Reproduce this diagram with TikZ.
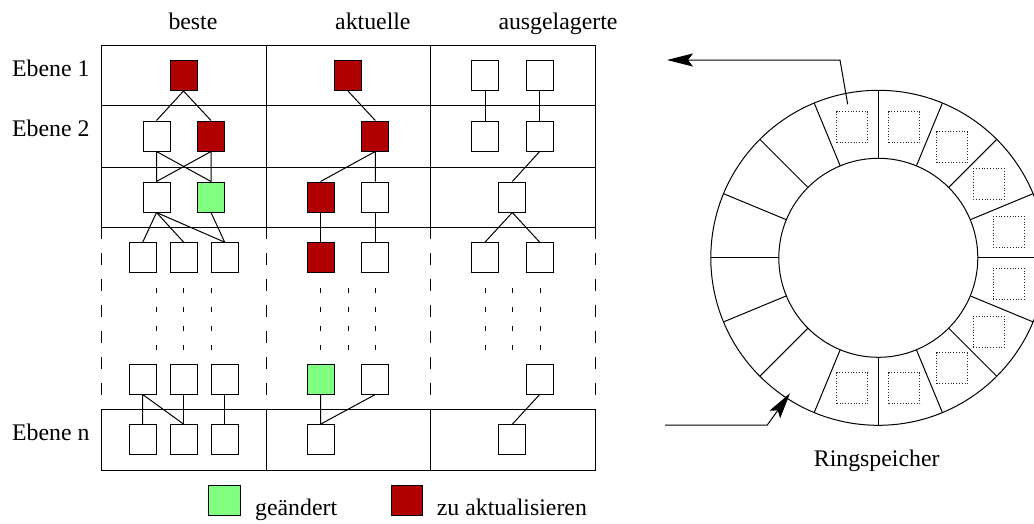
\documentclass[tikz,border=0pt]{standalone}
\usepackage{fontspec}
\setmainfont{Liberation Serif}
\usetikzlibrary{arrows.meta,calc}
\definecolor{updred}{RGB}{176,0,0}
\definecolor{chggreen}{RGB}{128,255,128}
\newcommand\lbfont{\fontsize{23.8}{28}\selectfont}
\begin{document}
\begin{tikzpicture}[x=1pt,y=-1pt,
  cell/.style={draw, line width=1pt, minimum width=27pt, minimum height=30pt, inner sep=0pt, fill=white},
  upd/.style={cell, fill=updred},
  chg/.style={cell, fill=chggreen},
  slot/.style={draw=black!85, dotted, line width=0.8pt, minimum width=31pt, minimum height=31pt, inner sep=0pt},
  lbl/.style={anchor=base west, inner sep=0pt, font=\lbfont},
  grid/.style={line width=1pt},
  gap/.style={line width=1pt, dash pattern=on 12pt off 14pt},
  dots/.style={line width=1pt, dash pattern=on 5pt off 14pt},
  link/.style={line width=1pt},
  ptr/.style={line width=1pt, -{Stealth[length=26pt, width=13pt, inset=5pt]}}]
\useasboundingbox (0,0) rectangle (1034,523);

% table frame
\draw[grid] (101,45) rectangle (595,227);
\draw[grid] (101,105) -- (595,105) (101,167) -- (595,167);
\draw[grid] (266,45) -- (266,227) (430,45) -- (430,227);
\foreach \x in {101,266,430,595} \draw[gap] (\x,227) -- (\x,409);
\draw[grid] (101,409) rectangle (595,470);
\draw[grid] (266,409) -- (266,470) (430,409) -- (430,470);

% column and row headings
\node[lbl] (hb) at (168.3,29.3) {beste};
\node[lbl] (ha) at (335,29.3) {aktuelle};
\node[lbl] (ho) at (498.3,29.3) {ausgelagerte};
\node[lbl] (e1) at (12,76) {Ebene 1};
\node[lbl] (e2) at (12,136) {Ebene 2};
\node[lbl] (en) at (12,440) {Ebene n};

% column "beste"
\node[upd]  (b1)  at (183.5,75.5) {};
\node[cell] (b2a) at (156.5,136) {};
\node[upd]  (b2b) at (211,136) {};
\node[cell] (b3a) at (156.5,197) {};
\node[chg]  (b3b) at (211,197) {};
\node[cell] (b4a) at (142.7,257.7) {};
\node[cell] (b4b) at (183.7,257.7) {};
\node[cell] (b4c) at (224.7,257.7) {};
\node[cell] (b5a) at (142.7,379) {};
\node[cell] (b5b) at (183.7,379) {};
\node[cell] (b5c) at (224.7,379) {};
\node[cell] (b6a) at (142.7,439.7) {};
\node[cell] (b6b) at (183.7,439.7) {};
\node[cell] (b6c) at (224.7,439.7) {};
\draw[link] (b1.south) -- (b2a.north) (b1.south) -- (b2b.north);
\draw[link] (b2a.south) -- (b3a.north) (b2a.south) -- (b3b.north);
\draw[link] (b2b.south) -- (b3a.north) (b2b.south) -- (b3b.north);
\draw[link] (b3a.south) -- (b4a.north) (b3a.south) -- (b4b.north) (b3a.south) -- (b4c.north);
\draw[link] (b3b.south) -- (b4c.north);
\draw[link] (b5a.south) -- (b6a.north) (b5a.south) -- (b6b.north);
\draw[link] (b5b.south) -- (b6b.north) (b5c.south) -- (b6c.north);

% column "aktuelle"
\node[upd]  (a1)  at (348,75.5) {};
\node[upd]  (a2)  at (375.3,136) {};
\node[upd]  (a3a) at (320.5,197) {};
\node[cell] (a3b) at (375.3,197) {};
\node[upd]  (a4a) at (320.5,257.7) {};
\node[cell] (a4b) at (375.3,257.7) {};
\node[chg]  (a5a) at (320.5,379) {};
\node[cell] (a5b) at (375.3,379) {};
\node[cell] (a6)  at (320.5,439.7) {};
\draw[link] (a1.south) -- (a2.north);
\draw[link] (a2.south) -- (a3a.north) (a2.south) -- (a3b.north);
\draw[link] (a3a.south) -- (a4a.north) (a3b.south) -- (a4b.north);
\draw[link] (a5a.south) -- (a6.north) (a5b.south) -- (a6.north);

% column "ausgelagerte"
\node[cell] (o1a) at (485,75.5) {};
\node[cell] (o1b) at (539.7,75.5) {};
\node[cell] (o2a) at (485,136) {};
\node[cell] (o2b) at (539.7,136) {};
\node[cell] (o3)  at (512.3,197) {};
\node[cell] (o4a) at (485,257.7) {};
\node[cell] (o4b) at (539.7,257.7) {};
\node[cell] (o5)  at (539.7,379) {};
\node[cell] (o6)  at (512.3,439.7) {};
\draw[link] (o1a.south) -- (o2a.north) (o1b.south) -- (o2b.north);
\draw[link] (o2b.south) -- (o3.north);
\draw[link] (o3.south) -- (o4a.north) (o3.south) -- (o4b.north);
\draw[link] (o5.south) -- (o6.north);

% skipped levels
\foreach \x in {156.3,183.7,211,320.7,348,375.3,485.3,512.7,540}
  \draw[dots] (\x,288) -- (\x,350);

% legend
\node[chg, minimum width=31.7pt] (kg) at (224.2,500) {};
\node[lbl] (tg) at (255,515) {geändert};
\node[upd, minimum width=30.6pt] (kr) at (407,500) {};
\node[lbl] (tr) at (436.7,515) {zu aktualisieren};

% ring buffer
\coordinate (c) at (878.3,257.8);
\draw[link] (c) circle[radius=167.5pt];
\draw[link] (c) circle[radius=99.5pt];
\foreach \a in {0,22.5,...,337.5}
  \draw[link] ($(c)+(\a:99.5pt)$) -- ($(c)+(\a:167.5pt)$);
\foreach \k in {-5,...,4}
  \node[slot] (s\k) at ($(c)+({11.25+22.5*\k}:133pt)$) {};
\node[lbl, anchor=base] (rs) at (876.7,466.5) {Ringspeicher};

% transfer arrows
\coordinate (up0) at (847.7,104.3);
\coordinate (upk) at (840,60);
\coordinate (upe) at (667,60);
\draw[ptr] (up0) -- (upk) -- (upe);
\coordinate (lo0) at (665,425);
\coordinate (lok) at (767.3,425);
\coordinate (loe) at (790,393.3);
\draw[ptr] (lo0) -- (lok) -- (loe);
\end{tikzpicture}
\end{document}
